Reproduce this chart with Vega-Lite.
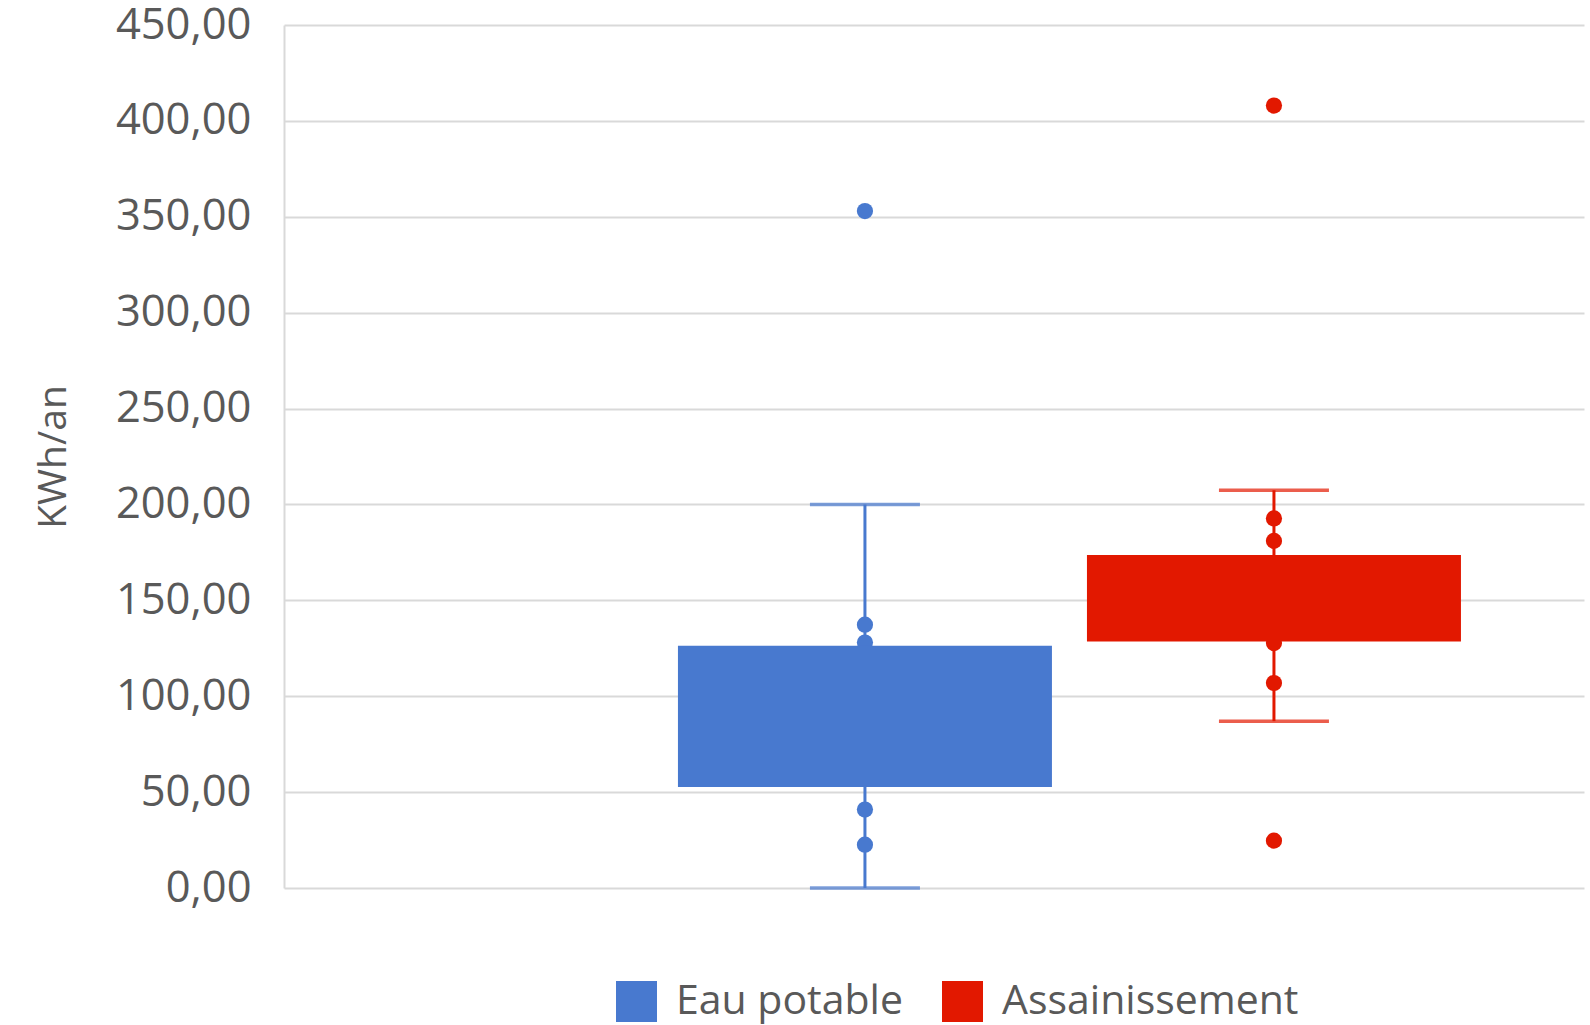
{
  "$schema": "https://vega.github.io/schema/vega-lite/v6.json",
  "width": 1300,
  "height": 863,
  "autosize": {"type": "none"},
  "padding": {"left": 284, "top": 25, "right": 6, "bottom": 137},
  "background": "white",
  "config": {
    "font": "Open Sans",
    "view": {"stroke": null}
  },
  "datasets": {
    "stats": [
      {"serie": "Eau potable", "lower": 0, "q1": 52.6, "q3": 126.3, "upper": 200},
      {"serie": "Assainissement", "lower": 87, "q1": 128.5, "q3": 173.7, "upper": 207.4}
    ],
    "points": [
      {"serie": "Eau potable", "value": 353},
      {"serie": "Eau potable", "value": 137.3},
      {"serie": "Eau potable", "value": 128},
      {"serie": "Eau potable", "value": 40.9},
      {"serie": "Eau potable", "value": 22.6},
      {"serie": "Assainissement", "value": 408},
      {"serie": "Assainissement", "value": 192.7},
      {"serie": "Assainissement", "value": 181},
      {"serie": "Assainissement", "value": 127.7},
      {"serie": "Assainissement", "value": 106.9},
      {"serie": "Assainissement", "value": 24.7}
    ]
  },
  "encoding": {
    "x": {
      "field": "serie",
      "type": "nominal",
      "sort": ["Eau potable", "Assainissement"],
      "scale": {"domain": ["Eau potable", "Assainissement"], "paddingInner": 0.0856, "paddingOuter": 0.632, "align": 0.762},
      "axis": null
    }
  },
  "resolve": {"legend": {"color": "independent"}},
  "layer": [
    {
      "data": {"name": "stats"},
      "mark": {"type": "rule", "strokeWidth": 3},
      "encoding": {
        "y": {
          "field": "lower",
          "type": "quantitative",
          "scale": {"domain": [0, 450], "nice": false},
          "axis": {
            "title": "KWh/an",
            "titleFontSize": 39,
            "titleFontWeight": "normal",
            "titleColor": "#595959",
            "titlePadding": 42,
            "values": [0, 50, 100, 150, 200, 250, 300, 350, 400, 450],
            "labelExpr": "replace(format(datum.value, '.2f'), '.', ',')",
            "labelFontSize": 43.5,
            "labelColor": "#595959",
            "labelPadding": 33,
            "ticks": false,
            "domain": true,
            "domainColor": "#d9d9d9",
            "domainWidth": 2,
            "grid": true,
            "gridColor": "#d9d9d9",
            "gridWidth": 2
          }
        },
        "y2": {"field": "upper"},
        "color": {
          "field": "serie",
          "type": "nominal",
          "scale": {"domain": ["Eau potable", "Assainissement"], "range": ["#4879cf", "#e21800"]},
          "legend": null
        }
      }
    },
    {
      "data": {"name": "stats"},
      "mark": {"type": "tick", "size": 110, "thickness": 3.5},
      "encoding": {
        "y": {"field": "lower", "type": "quantitative"},
        "color": {"field": "serie", "type": "nominal", "legend": null}
      }
    },
    {
      "data": {"name": "stats"},
      "mark": {"type": "tick", "size": 110, "thickness": 3.5},
      "encoding": {
        "y": {"field": "upper", "type": "quantitative"},
        "color": {"field": "serie", "type": "nominal", "legend": null}
      }
    },
    {
      "data": {"name": "points"},
      "mark": {"type": "circle", "size": 263, "opacity": 1},
      "encoding": {
        "y": {"field": "value", "type": "quantitative"},
        "color": {"field": "serie", "type": "nominal", "legend": null}
      }
    },
    {
      "data": {"name": "stats"},
      "mark": {"type": "bar"},
      "encoding": {
        "y": {"field": "q1", "type": "quantitative"},
        "y2": {"field": "q3"},
        "color": {
          "field": "serie",
          "type": "nominal",
          "legend": {
            "title": null,
            "orient": "none",
            "direction": "horizontal",
            "legendX": 332,
            "legendY": 956,
            "symbolType": "square",
            "symbolSize": 1681,
            "symbolStrokeWidth": 0,
            "labelFontSize": 41,
            "labelColor": "#595959",
            "labelOffset": 19,
            "labelLimit": 0,
            "columnPadding": 39,
            "padding": 0
          }
        }
      }
    }
  ]
}
